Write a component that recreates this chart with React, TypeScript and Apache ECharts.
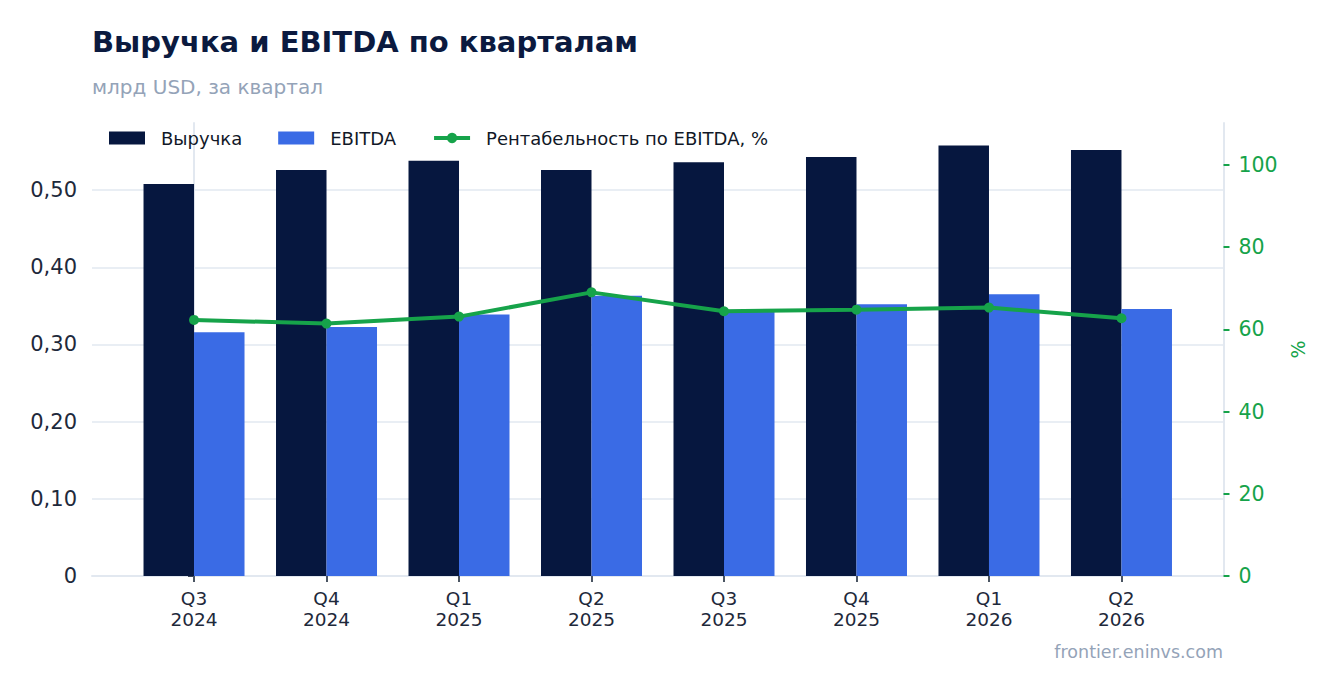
import React, { useEffect, useRef } from "react";
import * as echarts from "echarts";

const quarters = ["Q3\n2024", "Q4\n2024", "Q1\n2025", "Q2\n2025", "Q3\n2025", "Q4\n2025", "Q1\n2026", "Q2\n2026"];
const revenue = [0.508, 0.526, 0.538, 0.526, 0.536, 0.543, 0.558, 0.552];
const ebitda = [0.316, 0.3225, 0.339, 0.363, 0.342, 0.352, 0.365, 0.346];
const margin = [62.3, 61.4, 63.1, 69.0, 64.4, 64.8, 65.3, 62.7];
const leftTicks = [0, 0.1, 0.2, 0.3, 0.4, 0.5];
const rightTicks = [0, 20, 40, 60, 80, 100];

const FONT = "DejaVu Sans";
const NAVY = "#06173f";
const BLUE = "#3a6be5";
const GREEN = "#16a34a";
const GRID = "#e2e8f0";

export default function App() {
  const ref = useRef<HTMLDivElement>(null);
  useEffect(() => {
    if (!ref.current) return;
    const chart = echarts.init(ref.current, undefined, { renderer: "svg" });
    const idx = quarters.map((_, i) => i);
    chart.setOption({
      animation: false,
      backgroundColor: "#ffffff",
      textStyle: { fontFamily: FONT },
      title: [
        {
          text: "Выручка и EBITDA по кварталам",
          left: 92,
          top: 27,
          padding: 0,
          textStyle: { fontFamily: FONT, fontSize: 29, fontWeight: "bold", color: "#0b1a3f" },
        },
        {
          text: "млрд USD, за квартал",
          left: 92,
          top: 77,
          padding: 0,
          textStyle: { fontFamily: FONT, fontSize: 20, fontWeight: "normal", color: "#94a3b8" },
        },
        {
          text: "frontier.eninvs.com",
          right: 113,
          top: 643,
          padding: 0,
          textStyle: { fontFamily: FONT, fontSize: 17.5, fontWeight: "normal", color: "#94a3b8" },
        },
      ],
      legend: {
        left: 109,
        top: 129,
        padding: 0,
        itemWidth: 36,
        itemHeight: 13,
        itemGap: 36,
        textStyle: { fontFamily: FONT, fontSize: 18, color: "#111827", padding: [0, 0, 0, 11] },
        data: [
          { name: "Выручка", icon: "rect" },
          { name: "EBITDA", icon: "rect" },
          { name: "Рентабельность по EBITDA, %", itemStyle: { color: GREEN }, lineStyle: { width: 4, color: GREEN } },
        ],
      },
      grid: { left: 92, right: 112.5, top: 123, bottom: 117, containLabel: false },
      xAxis: {
        type: "value",
        min: -0.77,
        max: 7.77,
        axisLine: { show: true, onZero: false, lineStyle: { color: GRID, width: 2 } },
        axisTick: { show: true, customValues: idx, length: 6, lineStyle: { color: "#4b5563", width: 2 } },
        axisLabel: {
          customValues: idx,
          formatter: (v: number) => quarters[Math.round(v)] ?? "",
          fontFamily: FONT,
          fontSize: 18.5,
          color: "#1e293b",
          lineHeight: 21,
          margin: 12,
        },
        splitLine: { show: false },
      },
      yAxis: [
        {
          type: "value",
          min: 0,
          max: 0.587,
          interval: 0.1,
          axisLine: { show: true, lineStyle: { color: GRID, width: 2 } },
          axisTick: { show: true, length: 6, lineStyle: { color: "#374151", width: 2 } },
          axisLabel: {
            showMaxLabel: false,
            fontFamily: FONT,
            fontSize: 21,
            color: "#1e293b",
            margin: 15,
            formatter: (v: number) => (leftTicks.some((t) => Math.abs(t - v) < 1e-9) ? (v === 0 ? "0" : v.toFixed(2).replace(".", ",")) : ""),
          },
          splitLine: { show: true, showMaxLine: false, showMinLine: false, lineStyle: { color: GRID, width: 1.5 } },
        },
        {
          type: "value",
          min: 0,
          max: 110.2,
          interval: 20,
          position: "right",
          name: "%",
          nameLocation: "middle",
          nameRotate: 90,
          nameGap: 62,
          nameTextStyle: { fontFamily: FONT, fontSize: 19, color: GREEN },
          axisLine: { show: true, lineStyle: { color: GRID, width: 2 } },
          axisTick: { show: true, length: 6, lineStyle: { color: GREEN, width: 2 } },
          axisLabel: {
            showMaxLabel: false,
            fontFamily: FONT,
            fontSize: 20.5,
            color: GREEN,
            margin: 15,
            formatter: (v: number) => (rightTicks.includes(v) ? String(v) : ""),
          },
          splitLine: { show: false },
        },
      ],
      series: [
        {
          name: "Выручка",
          type: "bar",
          barWidth: 50.5,
          barGap: "0%",
          itemStyle: { color: NAVY },
          data: revenue.map((v, i) => [i, v]),
        },
        {
          name: "EBITDA",
          type: "bar",
          barWidth: 50.5,
          barGap: "0%",
          itemStyle: { color: BLUE },
          data: ebitda.map((v, i) => [i, v]),
        },
        {
          name: "Рентабельность по EBITDA, %",
          type: "line",
          yAxisIndex: 1,
          symbol: "circle",
          symbolSize: 10,
          z: 5,
          lineStyle: { color: GREEN, width: 4 },
          itemStyle: { color: GREEN },
          data: margin.map((v, i) => [i, v]),
        },
      ],
    });
    return () => chart.dispose();
  }, []);
  return <div ref={ref} style={{ position: "fixed", left: 0, top: 0, width: 1336, height: 693 }} />;
}
